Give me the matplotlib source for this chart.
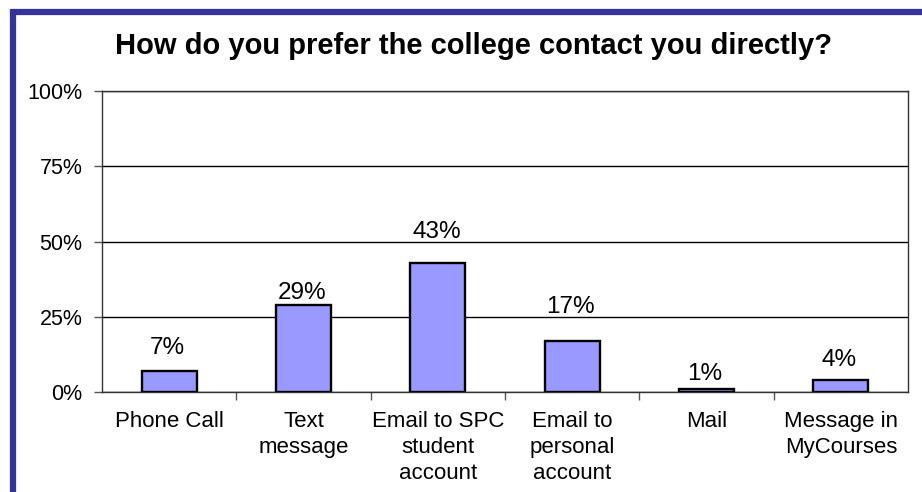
import matplotlib.pyplot as plt
from matplotlib.lines import Line2D
from matplotlib.ticker import FuncFormatter

plt.rcParams["font.family"] = ["Liberation Sans", "DejaVu Sans"]

# Survey answers and their shares (percent)
categories = [
    "Phone Call",
    "Text\nmessage",
    "Email to SPC\nstudent\naccount",
    "Email to\npersonal\naccount",
    "Mail",
    "Message in\nMyCourses",
]
shares = [7, 29, 43, 17, 1, 4]
y_ticks = [0, 25, 50, 75, 100]

# gap (px) between each bar top and the baseline of its value label
label_gap_px = [17, 6, 25, 28, 9, 14]

fig = plt.figure(figsize=(9.22, 4.92), dpi=100)
W, H = 922, 492

# frame lines along the top and left edge
fig.add_artist(Line2D([13 / W, 13 / W], [0, 1 - 9 / H], color="#333399", lw=4.5,
                      transform=fig.transFigure, solid_capstyle="butt"))
fig.add_artist(Line2D([11 / W, 1], [1 - 12 / H, 1 - 12 / H], color="#333399", lw=4.5,
                      transform=fig.transFigure, solid_capstyle="butt"))

ax = fig.add_axes([102 / W, 1 - 392 / H, (908 - 102) / W, (392 - 91) / H])

x = range(len(categories))
ax.bar(x, shares, width=0.41, color="#9999FF", edgecolor="black", linewidth=1.7, zorder=3)

for xi, v, gap in zip(x, shares, label_gap_px):
    ax.annotate(f"{v}%", (xi, v), xytext=(-1, gap * 0.72), textcoords="offset points",
                ha="center", va="baseline", fontsize=17.5)

ax.set_xlim(-0.5, len(categories) - 0.5)
ax.set_ylim(0, 100)
ax.set_yticks(y_ticks)
ax.yaxis.set_major_formatter(FuncFormatter(lambda v, p: f"{v:.0f}%"))
ax.tick_params(axis="y", labelsize=15.5, length=6, width=1, color="#555555", pad=8)
ax.yaxis.grid(True, color="black", linewidth=1, zorder=0)

# ticks sit between categories, names are centred under the bars
ax.set_xticks([i + 0.5 for i in range(len(categories) - 1)])
ax.set_xticklabels([])
ax.tick_params(axis="x", length=6, width=1, color="#555555")
ax.set_xticks(list(x), minor=True)
ax.set_xticklabels(categories, minor=True, fontsize=16, linespacing=1.3, va="top")
ax.tick_params(axis="x", which="minor", length=0, pad=14)

for side in ["left", "bottom", "top", "right"]:
    ax.spines[side].set_color("#333333")
    ax.spines[side].set_linewidth(1)

fig.text(473 / W, 1 - 46 / H, "How do you prefer the college contact you directly?",
         ha="center", va="center", fontsize=21, fontweight="bold")

fig.savefig("out.png", dpi=100)
